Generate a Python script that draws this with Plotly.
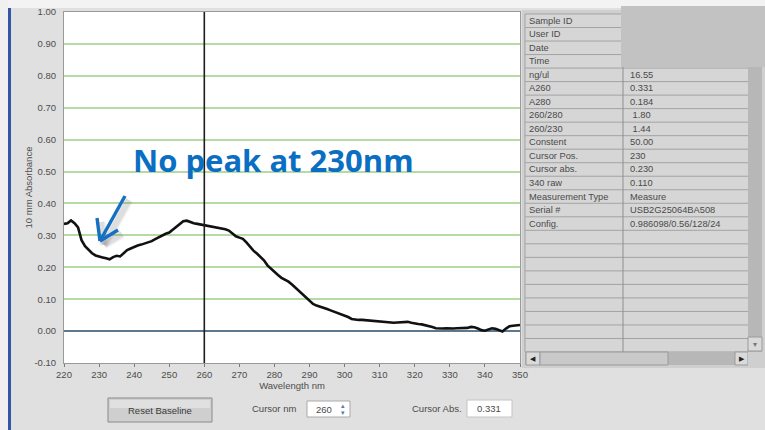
import plotly.graph_objects as go

# ---- spectrum (1 nm steps, 220-350 nm) ----
wavelength_nm = list(range(220, 351))
absorbance = [
    0.336, 0.338, 0.347, 0.338, 0.325, 0.285, 0.266, 0.254, 0.244, 0.237,  # 220-229
    0.233, 0.231, 0.228, 0.225, 0.232, 0.236, 0.234, 0.245, 0.254, 0.259,  # 230-239
    0.264, 0.268, 0.271, 0.274, 0.277, 0.282, 0.288, 0.294, 0.300, 0.305,  # 240-249
    0.309, 0.318, 0.327, 0.336, 0.344, 0.346, 0.341, 0.338, 0.336, 0.334,  # 250-259
    0.331, 0.331, 0.327, 0.325, 0.323, 0.322, 0.319, 0.315, 0.306, 0.297,  # 260-269
    0.293, 0.289, 0.278, 0.265, 0.252, 0.243, 0.234, 0.222, 0.206, 0.195,  # 270-279
    0.185, 0.176, 0.167, 0.161, 0.155, 0.146, 0.136, 0.125, 0.114, 0.104,  # 280-289
    0.093, 0.085, 0.080, 0.077, 0.073, 0.069, 0.065, 0.061, 0.058, 0.053,  # 290-299
    0.048, 0.044, 0.038, 0.036, 0.035, 0.035, 0.034, 0.033, 0.031, 0.030,  # 300-309
    0.029, 0.029, 0.028, 0.027, 0.026, 0.027, 0.028, 0.030, 0.029, 0.026,  # 310-319
    0.023, 0.022, 0.021, 0.019, 0.017, 0.013, 0.009, 0.008, 0.008, 0.009,  # 320-329
    0.008, 0.008, 0.009, 0.009, 0.009, 0.010, 0.013, 0.012, 0.008, 0.003,  # 330-339
    0.001, 0.006, 0.009, 0.007, 0.002, -0.001, 0.008, 0.015, 0.017, 0.018,  # 340-349
    0.019,                                                                  # 350
]

x_ticks = [220, 230, 240, 250, 260, 270, 280, 290, 300, 310, 320, 330, 340, 350]
y_ticks = [-0.10, 0.00, 0.10, 0.20, 0.30, 0.40, 0.50, 0.60, 0.70, 0.80, 0.90, 1.00]
y_tick_labels = ["-0.10", "0.00", "0.10", "0.20", "0.30", "0.40", "0.50",
                 "0.60", "0.70", "0.80", "0.90", "1.00"]

cursor_nm = 260
cursor_abs = "0.331"

# ---- report table ----
table_labels = ["Sample ID", "User ID", "Date", "Time", "ng/ul", "A260", "A280",
                "260/280", "260/230", "Constent", "Cursor Pos.", "Cursor abs.",
                "340 raw", "Measurement Type", "Serial #", "Config."]
table_values = ["", "", "", "", "16.55", "0.331", "0.184", " 1.80", " 1.44",
                "50.00", "230", "0.230", "0.110", "Measure", "USB2G25064BA508",
                "0.986098/0.56/128/24"]
table_rows_total = 25

note_text = "No peak at 230nm"

# ---- geometry of the plotting window (pixels) ----
W, H = 765, 430
L, R, T, B = 64, 520, 12, 363


def px(X):
    return (X - L) / (R - L)


def py(Y):
    return (B - Y) / (B - T)


shapes = []
annotations = []


def rect(x0, y0, x1, y1, fill, line=None, lw=1, layer="above"):
    shapes.append(dict(type="rect", xref="paper", yref="paper",
                       x0=px(x0), x1=px(x1), y0=py(y1), y1=py(y0),
                       fillcolor=fill, layer=layer,
                       line=dict(color=line or fill, width=lw if line else 0)))


def hline(x0, x1, y, color, width=1):
    shapes.append(dict(type="line", xref="paper", yref="paper",
                       x0=px(x0), x1=px(x1), y0=py(y), y1=py(y),
                       line=dict(color=color, width=width), layer="above"))


def vline(x, y0, y1, color, width=1):
    shapes.append(dict(type="line", xref="paper", yref="paper",
                       x0=px(x), x1=px(x), y0=py(y0), y1=py(y1),
                       line=dict(color=color, width=width), layer="above"))


def text(X, Y, s, size=9, color="#3c3c3c", anchor="left", family="Liberation Sans"):
    annotations.append(dict(xref="paper", yref="paper", x=px(X), y=py(Y),
                            text=s, showarrow=False, xanchor=anchor, yanchor="middle",
                            font=dict(size=size, color=color, family=family)))


# window chrome
rect(0, 0, W, 8, "#f3f3f3")
rect(0, 0, 8, H, "#f0f0f0")
rect(8, 8, 11, H, "#3556a8")

# report table
rect(522, 10, 765, 368, "#cfcfcf")
row_h = (352 - 14) / table_rows_total
rect(525, 14, 748, 352, "#d6d6d6")
for i in range(table_rows_total + 1):
    hline(525, 748, 14 + i * row_h, "#a3a3a3", 1)
vline(525, 14, 352, "#a3a3a3")
vline(623, 14, 352, "#8f8f8f")
for i, (lab, val) in enumerate(zip(table_labels, table_values)):
    yc = 14 + (i + 0.5) * row_h
    text(527, yc, lab, size=9.3, color="#4a4a4a")
    text(628, yc, val, size=9.3, color="#4a4a4a")

# scrollbars
rect(748, 14, 762, 352, "#b7b7b7")
rect(748, 337, 762, 351, "#dadada", "#9a9a9a")
text(755, 344, "▾", size=8, color="#777777", anchor="center")
rect(525, 352, 748, 365, "#b7b7b7")
rect(526, 352, 540, 365, "#dadada", "#9a9a9a")
rect(540, 352, 668, 365, "#c9c9c9", "#9a9a9a")
rect(735, 352, 748, 365, "#dadada", "#9a9a9a")
rect(748, 352, 762, 365, "#cfcfcf")
text(533, 358.5, "◀", size=7, color="#222222", anchor="center")
text(741.5, 358.5, "▶", size=7, color="#222222", anchor="center")

# masked header block
rect(621, 6, 765, 67, "#c2c2c2")

# bottom controls
rect(108, 398, 212, 422, "#cfcfcf", "#8a8a8a", 1)
rect(110, 400, 210, 408, "#e0e0e0")
text(160, 410, "Reset Baseline", size=9.5, color="#3a3a3a", anchor="center")
text(250, 408, "Cursor nm", size=9.5, color="#4a4a4a")
rect(307, 401, 350, 417, "#ffffff", "#a9a9a9")
text(314, 409, str(cursor_nm), size=9.5, color="#4a4a4a")
text(343, 405.5, "▴", size=7, color="#5a7bb0", anchor="center")
text(343, 412.5, "▾", size=7, color="#5a7bb0", anchor="center")
text(410, 408, "Cursor Abs.", size=9.5, color="#4a4a4a")
rect(467, 400, 512, 417, "#ffffff", "#c4c4c4")
text(489, 408.5, cursor_abs, size=9.5, color="#4a4a4a", anchor="center")

# cursor line at the selected wavelength
shapes.append(dict(type="line", xref="x", yref="paper", x0=cursor_nm, x1=cursor_nm,
                   y0=0, y1=1, line=dict(color="#1e1e1e", width=1.6), layer="above"))

# callout arrow (with a soft drop shadow) pointing at 230 nm
tip = (100, 241)
tail = (125, 196)
arm_l = (97, 218)
arm_r = (118, 230)


def seg(a, b, color, width, dx=0, dy=0, opacity=1.0):
    shapes.append(dict(type="line", xref="paper", yref="paper",
                       x0=px(a[0] + dx), y0=py(a[1] + dy), x1=px(b[0] + dx), y1=py(b[1] + dy),
                       line=dict(color=color, width=width), opacity=opacity, layer="above"))


for w, op in [(9, 0.08), (6, 0.12)]:
    for a, b in [(tail, tip), (arm_l, tip), (arm_r, tip)]:
        seg(a, b, "#606060", w, dx=4, dy=4, opacity=op)
for a, b in [(tail, tip), (arm_l, tip), (arm_r, tip)]:
    seg(a, b, "#1570c4", 3.4)

annotations.append(dict(xref="paper", yref="paper", x=px(131), y=py(160),
                        text=f"<b>{note_text}</b>", showarrow=False,
                        xanchor="left", yanchor="middle",
                        font=dict(size=31, color="#0a6fc2", family="Open Sans")))

fig = go.Figure(go.Scatter(x=wavelength_nm, y=absorbance, mode="lines",
                           line=dict(color="#111111", width=2.6),
                           hoverinfo="skip"))

axis_font = dict(size=9.5, color="#4d4d4d", family="Liberation Sans")
fig.update_layout(
    width=W, height=H, autosize=False,
    margin=dict(l=L, r=W - R, t=T, b=H - B, pad=0, autoexpand=False),
    paper_bgcolor="#e0e0e0", plot_bgcolor="#ffffff",
    showlegend=False,
    shapes=shapes, annotations=annotations,
    xaxis=dict(range=[220, 350], tickvals=x_ticks, ticks="outside", ticklen=3,
               tickcolor="#7a7a7a", showgrid=False, zeroline=False,
               showline=True, linecolor="#9a9a9a", mirror=True,
               tickfont=axis_font, automargin=False,
               title=dict(text="Wavelength nm", font=axis_font, standoff=1)),
    yaxis=dict(range=[-0.10, 1.00], tickvals=y_ticks, ticktext=y_tick_labels,
               ticks="", showgrid=True, gridcolor="#b4dba6", gridwidth=1.5,
               zeroline=True, zerolinecolor="#5c7790", zerolinewidth=2,
               showline=True, linecolor="#9a9a9a", mirror=True,
               tickfont=axis_font, ticklabelstandoff=5, automargin=False,
               title=dict(text="10 mm Absorbance", font=axis_font, standoff=0)),
)

fig.write_html("out.html")
